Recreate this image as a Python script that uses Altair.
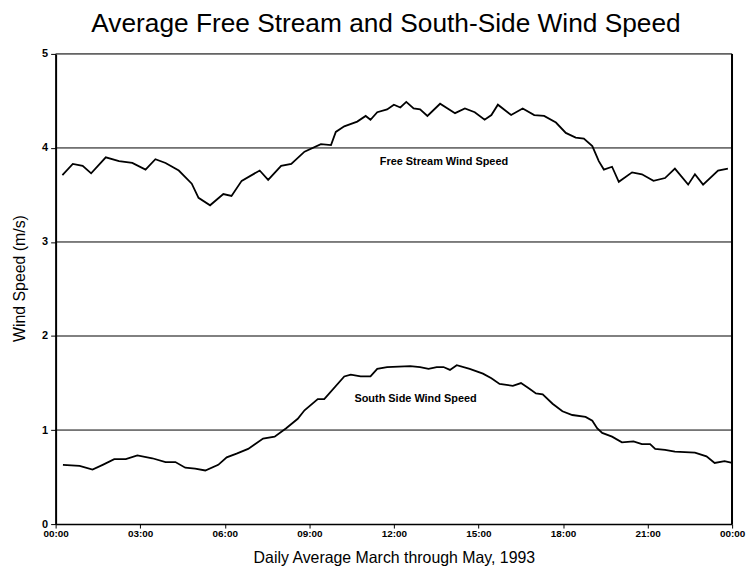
import altair as alt
import pandas as pd

# Free stream wind speed (hour of day, m/s)
free_hours = [0.24, 0.61, 0.96, 1.26, 1.78, 2.25, 2.72, 3.19, 3.54, 3.90, 4.37, 4.83, 5.07, 5.48,
              5.95, 6.24, 6.60, 7.24, 7.54, 8.00, 8.36, 8.83, 9.41, 9.77, 9.94, 10.24, 10.70,
              11.00, 11.17, 11.41, 11.76, 12.00, 12.23, 12.44, 12.70, 12.93, 13.19, 13.64, 14.17,
              14.52, 14.87, 15.22, 15.46, 15.69, 16.16, 16.57, 16.98, 17.33, 17.75, 18.10, 18.45,
              18.74, 19.04, 19.27, 19.45, 19.74, 19.98, 20.45, 20.80, 21.21, 21.62, 21.97, 22.44,
              22.68, 22.97, 23.50, 23.85]
free_speed = [3.71, 3.83, 3.81, 3.73, 3.90, 3.86, 3.84, 3.77, 3.88, 3.84, 3.76, 3.62, 3.47, 3.39,
              3.51, 3.49, 3.65, 3.76, 3.66, 3.81, 3.83, 3.96, 4.04, 4.03, 4.17, 4.23, 4.28,
              4.34, 4.30, 4.38, 4.41, 4.46, 4.43, 4.49, 4.42, 4.41, 4.34, 4.47, 4.37,
              4.42, 4.38, 4.30, 4.35, 4.46, 4.35, 4.42, 4.35, 4.34, 4.27, 4.16, 4.11,
              4.10, 4.02, 3.86, 3.77, 3.80, 3.64, 3.74, 3.72, 3.65, 3.68, 3.78, 3.61,
              3.72, 3.61, 3.76, 3.78]

# South side wind speed (hour of day, m/s)
south_hours = [0.26, 0.85, 1.31, 1.67, 2.08, 2.49, 2.90, 3.43, 3.90, 4.25, 4.60, 4.95, 5.31, 5.77,
               6.07, 6.42, 6.83, 7.07, 7.36, 7.77, 8.18, 8.59, 8.83, 9.30, 9.53, 10.24, 10.47,
               10.82, 11.17, 11.41, 11.76, 12.58, 12.93, 13.23, 13.52, 13.76, 13.99, 14.23, 14.69,
               15.16, 15.46, 15.75, 16.22, 16.51, 16.81, 17.04, 17.28, 17.63, 17.98, 18.33, 18.80,
               19.04, 19.21, 19.39, 19.74, 20.09, 20.50, 20.80, 21.09, 21.27, 21.62, 21.97, 22.68,
               23.09, 23.38, 23.73, 24.00]
south_speed = [0.63, 0.62, 0.58, 0.63, 0.69, 0.69, 0.73, 0.70, 0.66, 0.66, 0.60, 0.59, 0.57, 0.63,
               0.71, 0.75, 0.80, 0.85, 0.91, 0.93, 1.02, 1.12, 1.21, 1.33, 1.33, 1.57, 1.59,
               1.57, 1.57, 1.65, 1.67, 1.68, 1.67, 1.65, 1.67, 1.67, 1.64, 1.69, 1.65,
               1.60, 1.55, 1.49, 1.47, 1.50, 1.44, 1.39, 1.38, 1.28, 1.20, 1.16, 1.14,
               1.10, 1.02, 0.97, 0.93, 0.87, 0.88, 0.85, 0.85, 0.80, 0.79, 0.77, 0.76,
               0.72, 0.65, 0.67, 0.65]

x_ticks = [0, 3, 6, 9, 12, 15, 18, 21, 24]
y_ticks = [0, 1, 2, 3, 4, 5]
grid_levels = [1, 2, 3, 4, 5]

label_text = ["Free Stream Wind Speed", "South Side  Wind Speed"]
label_x = [11.5, 10.6]
label_y = [3.85, 1.33]

df = pd.DataFrame(
    {"hour": free_hours + south_hours,
     "speed": free_speed + south_speed,
     "series": ["Free Stream"] * len(free_hours) + ["South Side"] * len(south_hours)}
)
grid_df = pd.DataFrame({"level": grid_levels})
lab_df = pd.DataFrame({"text": label_text, "hour": label_x, "speed": label_y})

FONT = "Liberation Sans"

x_scale = alt.Scale(domain=[0, 24], nice=False, zero=False)
y_scale = alt.Scale(domain=[0, 5], nice=False)

x_axis = alt.Axis(
    values=x_ticks,
    labelExpr="(datum.value % 24 < 10 ? '0' : '') + (datum.value % 24) + ':00'",
    title="Daily Average March through May, 1993",
    titleFont=FONT, titleFontSize=16, titleFontWeight="normal", titleColor="black",
    titlePadding=11,
    labelFont=FONT, labelFontSize=10, labelFontWeight="bold", labelColor="black",
    labelPadding=1,
    grid=False, domainColor="black", domainWidth=1.5, tickColor="black", tickSize=4,
    labelFlush=False,
)
y_axis = alt.Axis(
    values=y_ticks, format="d",
    title="Wind Speed  (m/s)",
    titleFont=FONT, titleFontSize=16, titleFontWeight="normal", titleColor="black",
    titlePadding=14, titleY=226,
    labelFont=FONT, labelFontSize=11, labelFontWeight="bold", labelColor="black",
    labelPadding=3,
    grid=False, domainColor="black", domainWidth=2, tickColor="black", tickSize=5,
)

grid = alt.Chart(grid_df).mark_rule(color="black", strokeWidth=1).encode(
    y=alt.Y("level:Q", scale=y_scale, axis=y_axis),
)

right_border = alt.Chart(grid_df).mark_rule(color="black", strokeWidth=1.5).encode(
    x=alt.value(682), y=alt.value(0), y2=alt.value(474),
)

lines = alt.Chart(df).mark_line(color="black", strokeWidth=1.8).encode(
    x=alt.X("hour:Q", scale=x_scale, axis=x_axis),
    y=alt.Y("speed:Q", scale=y_scale, axis=y_axis),
    detail="series:N",
)

labels = alt.Chart(lab_df).mark_text(
    align="left", baseline="middle", font=FONT, fontSize=11, fontWeight="bold", color="black"
).encode(
    x=alt.X("hour:Q", scale=x_scale),
    y=alt.Y("speed:Q", scale=y_scale),
    text="text:N",
)

chart = alt.layer(grid, right_border, lines, labels).properties(
    width=682,
    height=474,
    title=alt.TitleParams(
        "Average Free Stream and South-Side Wind Speed",
        font=FONT, fontSize=26.5, fontWeight="normal", color="black",
        anchor="middle", dx=-8, offset=11,
    ),
    autosize=alt.AutoSizeParams(type="none"),
    padding={"left": 48, "top": 44, "right": 16, "bottom": 43},
).configure_view(stroke=None).configure(background="white")

chart.save("out.html", embed_options={"renderer": "svg", "actions": False})
